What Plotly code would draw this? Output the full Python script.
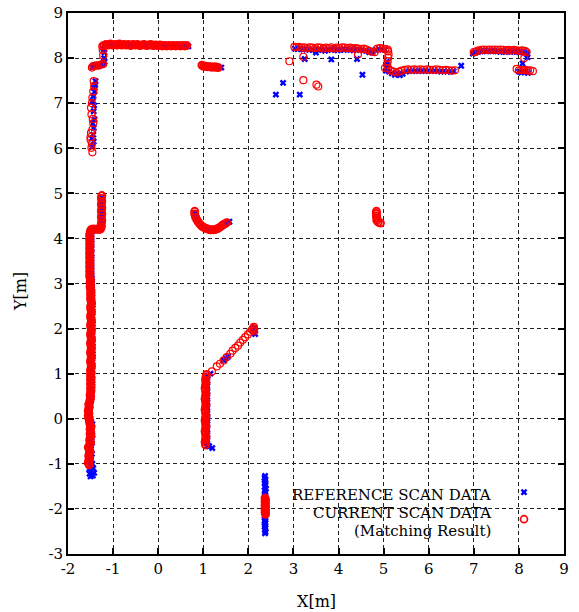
import plotly.graph_objects as go

# ---------------- REFERENCE SCAN DATA (blue x) ----------------
REF_LEFT_WALL = [(-1.50,-1.28),(-1.45,-1.26),(-1.52,-1.22),(-1.42,-1.20),(-1.48,-1.16),(-1.53,-1.12),(-1.44,-1.10),(-1.50,-1.05),(-1.46,-1.00),(-1.52,-0.96),(-1.49,-0.90),(-1.51,-0.84),(-1.47,-0.78),(-1.50,-0.72),(-1.52,-0.66),(-1.49,-0.60),(-1.47,-0.54),(-1.50,-0.48),(-1.48,-0.42),(-1.46,-0.36),(-1.49,-0.30),(-1.47,-0.24),(-1.48,-0.18),(-1.46,-0.12),(-1.49,-0.06),(-1.50,0.00),(-1.51,0.06),(-1.52,0.12),(-1.51,0.18),(-1.52,0.24),(-1.50,0.30),(-1.51,0.36),(-1.49,0.42),(-1.48,0.48),(-1.47,0.54),(-1.48,0.60),(-1.47,0.66),(-1.46,0.72),(-1.47,0.78),(-1.46,0.84),(-1.47,0.90),(-1.46,0.96),(-1.47,1.02),(-1.46,1.08),(-1.47,1.14),(-1.46,1.20),(-1.46,1.26),(-1.47,1.32),(-1.46,1.38),(-1.45,1.44),(-1.46,1.50),(-1.47,1.56),(-1.46,1.62),(-1.45,1.68),(-1.46,1.74),(-1.47,1.80),(-1.46,1.86),(-1.46,1.92),(-1.47,1.98),(-1.46,2.04),(-1.45,2.10),(-1.46,2.16),(-1.47,2.22),(-1.46,2.28),(-1.46,2.34),(-1.47,2.40),(-1.46,2.46),(-1.45,2.52),(-1.46,2.58),(-1.47,2.64),(-1.46,2.70),(-1.47,2.76),(-1.46,2.82),(-1.47,2.88),(-1.48,2.94),(-1.47,3.00),(-1.48,3.06),(-1.47,3.12),(-1.48,3.18),(-1.49,3.24),(-1.48,3.30),(-1.49,3.36),(-1.48,3.42),(-1.49,3.48),(-1.48,3.54),(-1.49,3.60),(-1.48,3.66),(-1.49,3.72),(-1.48,3.78),(-1.49,3.84),(-1.48,3.90),(-1.49,3.96),(-1.48,4.02),(-1.49,4.08),(-1.48,4.14),(-1.47,4.19)]
REF_LEFT_STEP = [(-1.45,4.21),(-1.41,4.20),(-1.37,4.21),(-1.33,4.20),(-1.29,4.21),(-1.25,4.24),(-1.24,4.30),(-1.25,4.36),(-1.24,4.42),(-1.25,4.48),(-1.24,4.54),(-1.25,4.60),(-1.24,4.66),(-1.25,4.72),(-1.24,4.78),(-1.25,4.84),(-1.24,4.90)]
REF_UPPER_LEFT = [(-1.39,7.49),(-1.40,7.40),(-1.43,7.34),(-1.41,7.26),(-1.44,7.15),(-1.46,7.04),(-1.42,6.95),(-1.43,6.82),(-1.41,6.64),(-1.45,6.55),(-1.43,6.45),(-1.44,6.30),(-1.47,6.22),(-1.43,6.15),(-1.46,6.04),
                  (-1.46,7.80),(-1.42,7.82),(-1.38,7.83),(-1.34,7.82),(-1.30,7.84),(-1.26,7.85),(-1.22,7.88),(-1.19,7.92),(-1.20,8.00),(-1.19,8.12),(-1.21,8.20)]
REF_TOP_WALL = [(-1.18,8.27),(-1.13,8.29),(-1.08,8.28),(-1.03,8.30),(-0.98,8.28),(-0.93,8.29),(-0.88,8.27),(-0.83,8.29),(-0.78,8.28),(-0.73,8.30),(-0.68,8.28),(-0.63,8.27),(-0.58,8.29),(-0.53,8.28),(-0.48,8.29),(-0.43,8.27),(-0.38,8.28),(-0.33,8.29),(-0.28,8.27),(-0.23,8.28),(-0.18,8.29),(-0.13,8.27),(-0.08,8.28),(-0.03,8.27),(0.02,8.28),(0.07,8.26),(0.12,8.27),(0.17,8.26),(0.22,8.27),(0.27,8.26),(0.32,8.27),(0.37,8.26),(0.42,8.27),(0.47,8.26),(0.52,8.27),(0.57,8.26),(0.62,8.27),(0.67,8.26)]
REF_MID_SEG = [(1.00,7.82),(1.05,7.81),(1.10,7.80),(1.15,7.81),(1.20,7.80),(1.25,7.79),(1.30,7.80),(1.35,7.79),(1.40,7.79)]
REF_SCATTER = [(2.61,7.19),(2.77,7.45),(3.14,7.19),(3.25,7.98),(3.50,8.12),(3.84,7.97),(4.41,7.98),(4.53,7.63)]
REF_UPPER_RIGHT = [(3.03,8.21),(3.09,8.20),(3.15,8.21),(3.21,8.19),(3.28,8.20),(3.35,8.18),(3.42,8.19),(3.49,8.17),(3.56,8.19),(3.63,8.18),(3.70,8.16),(3.77,8.19),(3.84,8.18),(3.91,8.20),(3.98,8.17),(4.05,8.19),(4.12,8.18),(4.19,8.20),(4.26,8.18),(4.33,8.17),(4.40,8.19),(4.47,8.18),(4.54,8.17),(4.61,8.16),(4.68,8.13),(4.75,8.12),(4.82,8.18),(4.89,8.20),(4.96,8.19),(5.03,8.18),
                   (5.07,7.92),(5.06,7.86),(5.08,7.78)]
REF_LOWER_SEG = [(5.05,7.72),(5.12,7.70),(5.18,7.66),(5.25,7.63),(5.30,7.66),(5.36,7.62),(5.42,7.65),(5.50,7.70),(5.57,7.72),(5.64,7.71),(5.71,7.72),(5.78,7.71),(5.85,7.72),(5.92,7.71),(5.99,7.72),(6.06,7.71),(6.13,7.72),(6.20,7.71),(6.27,7.70),(6.34,7.71),(6.41,7.70),(6.48,7.70),(6.55,7.71),(6.72,7.83)]
REF_RIGHT_WALL = [(6.98,8.10),(7.04,8.12),(7.10,8.14),(7.16,8.15),(7.22,8.16),(7.28,8.15),(7.34,8.16),(7.40,8.15),(7.46,8.16),(7.52,8.15),(7.58,8.14),(7.64,8.15),(7.70,8.14),(7.76,8.15),(7.82,8.14),(7.88,8.15),(7.94,8.14),(8.00,8.13),(8.06,8.14),(8.12,8.13),(8.17,8.10),
                  (8.00,7.70),(8.05,7.68),(8.10,7.72),(8.15,7.70),(8.20,7.67),(8.08,7.88),(8.18,8.08),(8.19,8.02)]
REF_ARC = [(0.82,4.56),(0.85,4.46),(0.89,4.38),(0.94,4.30),(1.00,4.24),(1.06,4.21),(1.12,4.19),(1.18,4.18),(1.24,4.18),(1.30,4.20),(1.36,4.23),(1.42,4.27),(1.48,4.33),(1.54,4.36),(1.58,4.37)]
REF_DIAGONAL = [(1.45,1.30),(1.50,1.34),(1.55,1.38),(2.14,2.02),(2.15,1.96),(2.13,1.92),(2.15,1.88)]
REF_POLE_1 = [(1.09,-0.60),(1.08,-0.54),(1.09,-0.48),(1.08,-0.42),(1.09,-0.36),(1.08,-0.30),(1.09,-0.24),(1.08,-0.18),(1.09,-0.12),(1.08,-0.06),(1.09,0.00),(1.08,0.06),(1.09,0.12),(1.08,0.18),(1.09,0.24),(1.08,0.30),(1.09,0.36),(1.08,0.42),(1.09,0.48),(1.08,0.54),(1.09,0.60),(1.08,0.66),(1.09,0.72),(1.08,0.78),(1.09,0.84),(1.08,0.90),(1.10,0.96),(1.16,1.00),(1.20,-0.65),(1.13,-0.61)]
REF_POLE_2 = [(2.37,-1.27),(2.36,-1.31),(2.38,-1.35),(2.37,-1.39),(2.36,-1.43),(2.38,-1.47),(2.37,-1.51),(2.39,-1.55),(2.36,-1.59),(2.38,-1.63),(2.37,-1.67),(2.36,-1.71),(2.38,-1.75),(2.37,-1.79),(2.39,-1.83),(2.36,-1.87),(2.38,-1.91),(2.37,-1.95),(2.36,-1.99),(2.38,-2.03),(2.37,-2.07),(2.39,-2.11),(2.36,-2.15),(2.38,-2.19),(2.37,-2.23),(2.36,-2.27),(2.38,-2.31),(2.37,-2.35),(2.36,-2.39),(2.38,-2.43),(2.37,-2.47),(2.38,-2.51),(2.37,-2.54)]

# ---------------- CURRENT SCAN DATA (red o) ----------------
CUR_LEFT_WALL = [(-1.53,-1.02),(-1.55,-0.98),(-1.54,-0.93),(-1.52,-0.88),(-1.54,-0.83),(-1.53,-0.78),(-1.51,-0.73),(-1.53,-0.68),(-1.55,-0.63),(-1.52,-0.58),(-1.50,-0.53),(-1.52,-0.48),(-1.51,-0.43),(-1.49,-0.38),(-1.51,-0.33),(-1.50,-0.28),(-1.51,-0.23),(-1.49,-0.18),(-1.51,-0.13),(-1.52,-0.08),(-1.53,-0.03),(-1.54,0.02),(-1.55,0.07),(-1.54,0.12),(-1.55,0.17),(-1.54,0.22),(-1.53,0.27),(-1.54,0.32),(-1.52,0.37),(-1.51,0.42),(-1.50,0.47),(-1.51,0.52),(-1.50,0.57),(-1.49,0.62),(-1.50,0.67),(-1.49,0.72),(-1.50,0.77),(-1.49,0.82),(-1.50,0.87),(-1.49,0.92),(-1.50,0.97),(-1.49,1.02),(-1.50,1.07),(-1.49,1.12),(-1.48,1.17),(-1.49,1.22),(-1.50,1.27),(-1.49,1.32),(-1.48,1.37),(-1.49,1.42),(-1.50,1.47),(-1.49,1.52),(-1.48,1.57),(-1.49,1.62),(-1.50,1.67),(-1.49,1.72),(-1.48,1.77),(-1.49,1.82),(-1.50,1.87),(-1.49,1.92),(-1.48,1.97),(-1.49,2.02),(-1.50,2.07),(-1.49,2.12),(-1.48,2.17),(-1.49,2.22),(-1.50,2.27),(-1.49,2.32),(-1.48,2.37),(-1.49,2.42),(-1.50,2.47),(-1.49,2.52),(-1.48,2.57),(-1.49,2.62),(-1.50,2.67),(-1.49,2.72),(-1.50,2.77),(-1.49,2.82),(-1.50,2.87),(-1.51,2.92),(-1.50,2.97),(-1.51,3.02),(-1.50,3.07),(-1.51,3.12),(-1.52,3.17),(-1.51,3.22),(-1.52,3.27),(-1.51,3.32),(-1.52,3.37),(-1.51,3.42),(-1.52,3.47),(-1.51,3.52),(-1.52,3.57),(-1.51,3.62),(-1.52,3.67),(-1.51,3.72),(-1.52,3.77),(-1.51,3.82),(-1.52,3.87),(-1.51,3.92),(-1.52,3.97),(-1.51,4.02),(-1.52,4.07),(-1.51,4.12),(-1.50,4.17)]
CUR_LEFT_STEP = [(-1.48,4.20),(-1.44,4.21),(-1.40,4.20),(-1.36,4.21),(-1.32,4.20),(-1.28,4.21),(-1.26,4.26),(-1.26,4.33),(-1.25,4.40),(-1.26,4.47),(-1.25,4.54),(-1.26,4.61),(-1.25,4.68),(-1.26,4.75),(-1.25,4.82),(-1.26,4.89),(-1.25,4.95)]
CUR_UPPER_LEFT = [(-1.43,7.49),(-1.42,7.38),(-1.44,7.26),(-1.46,7.12),(-1.47,7.00),(-1.49,6.90),(-1.48,6.75),(-1.45,6.65),(-1.44,6.56),(-1.46,6.41),(-1.49,6.34),(-1.50,6.25),(-1.50,6.19),(-1.47,6.10),(-1.48,6.01),(-1.46,5.91),
                  (-1.47,7.79),(-1.44,7.82),(-1.41,7.83),(-1.37,7.84),(-1.33,7.83),(-1.29,7.85),(-1.25,7.86),(-1.22,7.87),(-1.22,8.06),(-1.23,8.18),(-1.24,8.26)]
CUR_TOP_WALL = [(-1.21,8.28),(-1.16,8.30),(-1.11,8.29),(-1.06,8.31),(-1.01,8.29),(-0.96,8.30),(-0.91,8.29),(-0.86,8.31),(-0.81,8.29),(-0.76,8.30),(-0.71,8.29),(-0.66,8.30),(-0.61,8.28),(-0.56,8.30),(-0.51,8.29),(-0.46,8.30),(-0.41,8.28),(-0.36,8.29),(-0.31,8.30),(-0.26,8.28),(-0.21,8.29),(-0.16,8.30),(-0.11,8.28),(-0.06,8.29),(-0.01,8.28),(0.04,8.29),(0.09,8.27),(0.14,8.28),(0.19,8.27),(0.24,8.28),(0.29,8.27),(0.34,8.28),(0.39,8.27),(0.44,8.28),(0.49,8.27),(0.54,8.28),(0.59,8.27),(0.63,8.28)]
CUR_MID_SEG = [(0.97,7.84),(1.01,7.82),(1.05,7.82),(1.09,7.81),(1.13,7.81),(1.17,7.80),(1.21,7.80),(1.25,7.80),(1.29,7.80),(1.33,7.79)]
CUR_SCATTER = [(2.91,7.93),(3.22,7.51),(3.22,8.03),(3.51,7.41),(3.55,7.37),(4.43,8.08)]
CUR_UPPER_RIGHT = [(3.02,8.25),(3.07,8.24),(3.12,8.25),(3.18,8.23),(3.24,8.24),(3.30,8.22),(3.36,8.24),(3.42,8.23),(3.48,8.22),(3.54,8.24),(3.60,8.23),(3.66,8.21),(3.72,8.23),(3.78,8.22),(3.84,8.24),(3.90,8.21),(3.96,8.23),(4.02,8.22),(4.08,8.24),(4.14,8.23),(4.20,8.22),(4.26,8.23),(4.32,8.21),(4.38,8.22),(4.44,8.21),(4.50,8.20),(4.56,8.21),(4.62,8.19),(4.68,8.16),(4.74,8.14),(4.80,8.13),(4.86,8.21),(4.92,8.22),(4.98,8.21),(5.04,8.20),(5.09,8.19),
                   (5.10,8.15),(5.11,8.08),(5.10,8.01),(5.09,7.93),(5.08,7.85)]
CUR_LOWER_SEG = [(5.03,7.78),(5.10,7.77),(5.16,7.72),(5.22,7.70),(5.28,7.68),(5.34,7.70),(5.40,7.72),(5.47,7.74),(5.54,7.75),(5.61,7.74),(5.68,7.75),(5.75,7.74),(5.82,7.75),(5.89,7.74),(5.96,7.75),(6.03,7.74),(6.10,7.74),(6.17,7.75),(6.24,7.74),(6.31,7.73),(6.38,7.74),(6.45,7.73),(6.52,7.72),(6.58,7.73)]
CUR_RIGHT_WALL = [(7.00,8.13),(7.05,8.15),(7.11,8.17),(7.17,8.18),(7.23,8.19),(7.29,8.18),(7.35,8.19),(7.41,8.18),(7.47,8.19),(7.53,8.18),(7.59,8.19),(7.65,8.18),(7.71,8.17),(7.77,8.18),(7.83,8.17),(7.89,8.18),(7.95,8.17),(8.01,8.16),(8.07,8.17),(8.13,8.16),(8.17,8.13),
                  (7.95,7.76),(8.00,7.73),(8.05,7.74),(8.10,7.73),(8.15,7.74),(8.20,7.72),(8.25,7.73),(8.31,7.71),(8.12,8.00)]
CUR_ARC = [(0.81,4.60),(0.81,4.54),(0.83,4.47),(0.86,4.41),(0.89,4.36),(0.93,4.31),(0.97,4.27),(1.02,4.24),(1.07,4.22),(1.12,4.20),(1.17,4.19),(1.22,4.19),(1.27,4.20),(1.32,4.22),(1.37,4.25),(1.42,4.29),(1.47,4.32),(1.52,4.35)]
CUR_SMALL_SEG = [(4.84,4.60),(4.84,4.55),(4.84,4.50),(4.85,4.45),(4.85,4.40),(4.88,4.36),(4.93,4.34)]
CUR_DIAGONAL = [(1.19,1.05),(1.30,1.16),(1.37,1.22),(1.45,1.29),(1.52,1.37),(1.60,1.44),(1.65,1.51),(1.71,1.57),(1.77,1.62),(1.82,1.69),(1.88,1.75),(1.93,1.81),(1.99,1.87),(2.04,1.93),(2.08,1.97),(2.11,2.01),(2.12,2.04),(2.13,1.98),(2.12,1.94)]
CUR_POLE_1 = [(1.05,-0.58),(1.04,-0.52),(1.05,-0.46),(1.06,-0.40),(1.05,-0.34),(1.04,-0.28),(1.05,-0.22),(1.06,-0.16),(1.05,-0.10),(1.04,-0.04),(1.05,0.02),(1.06,0.08),(1.05,0.14),(1.04,0.20),(1.05,0.26),(1.06,0.32),(1.05,0.38),(1.04,0.44),(1.05,0.50),(1.06,0.56),(1.05,0.62),(1.04,0.68),(1.05,0.74),(1.06,0.80),(1.05,0.86),(1.06,0.92),(1.07,0.98)]
CUR_POLE_2 = [(2.37,-1.76),(2.38,-1.80),(2.37,-1.84),(2.38,-1.88),(2.37,-1.92),(2.38,-1.96),(2.37,-2.00),(2.38,-2.04),(2.37,-2.08),(2.38,-2.12)]

X_TICKS = [-2, -1, 0, 1, 2, 3, 4, 5, 6, 7, 8, 9]
Y_TICKS = [-3, -2, -1, 0, 1, 2, 3, 4, 5, 6, 7, 8, 9]
LEGEND_LINES = ["REFERENCE SCAN DATA", "CURRENT SCAN DATA", "(Matching Result)"]
X_TITLE = "X[m]"
Y_TITLE = "Y[m]"

ref = (REF_LEFT_WALL + REF_LEFT_STEP + REF_UPPER_LEFT + REF_TOP_WALL + REF_MID_SEG + REF_SCATTER
       + REF_UPPER_RIGHT + REF_LOWER_SEG + REF_RIGHT_WALL + REF_ARC + REF_DIAGONAL + REF_POLE_1 + REF_POLE_2)

# red segments: densely sampled walls drawn with a heavier circle outline
cur_segments = [
    (CUR_LEFT_WALL, True), (CUR_LEFT_STEP, True), (CUR_UPPER_LEFT, False), (CUR_TOP_WALL, True),
    (CUR_MID_SEG, True), (CUR_SCATTER, False), (CUR_UPPER_RIGHT, False), (CUR_LOWER_SEG, False),
    (CUR_RIGHT_WALL, False), (CUR_ARC, True), (CUR_SMALL_SEG, True), (CUR_DIAGONAL, False),
    (CUR_POLE_1, True), (CUR_POLE_2, True),
]
cur, cur_lw = [], []
for seg, dense in cur_segments:
    cur += seg
    cur_lw += [2.0 if dense else 1.2] * len(seg)

FONT = "DejaVu Serif"

fig = go.Figure()
fig.add_trace(go.Scatter(
    x=[p[0] for p in ref], y=[p[1] for p in ref], mode="markers", name=" ",
    legendgroup="ref",
    marker=dict(symbol="x", size=6, color="#0000ff", line=dict(width=0)),
))
fig.add_trace(go.Scatter(
    x=[p[0] for p in cur], y=[p[1] for p in cur], mode="markers", name=" ",
    legendgroup="cur",
    marker=dict(symbol="circle-open", size=7, color="#ff0000", line=dict(width=cur_lw)),
))

axis_common = dict(
    showline=True, linecolor="black", linewidth=2, mirror="ticks",
    ticks="inside", ticklen=6, tickwidth=1.5, tickcolor="black",
    showgrid=True, gridcolor="#222222", gridwidth=1, griddash="4px,3px",
    zeroline=False, automargin=False,
    tickfont=dict(family=FONT, size=15, color="black"),
)
fig.update_xaxes(range=[-2, 9], tickvals=X_TICKS, ticktext=[str(v) for v in X_TICKS], **axis_common)
fig.update_yaxes(range=[-3, 9], tickvals=Y_TICKS, ticktext=[str(v) for v in Y_TICKS], **axis_common)

# axis titles as annotations for exact placement
fig.add_annotation(xref="paper", yref="paper", x=0.5, y=-0.088, xanchor="center", yanchor="middle",
                   showarrow=False, text=X_TITLE, font=dict(family=FONT, size=16, color="black"))
fig.add_annotation(xref="paper", yref="paper", x=-0.096, y=0.485, xanchor="center", yanchor="middle",
                   showarrow=False, text=Y_TITLE, textangle=-90, font=dict(family=FONT, size=16, color="black"))

for i, line in enumerate(LEGEND_LINES):
    fig.add_annotation(xref="paper", yref="paper", x=0.856, y=0.109 - i * 0.033,
                       xanchor="right", yanchor="middle", showarrow=False, text=line,
                       font=dict(family=FONT, size=15, color="black"))

fig.update_layout(
    width=579, height=612,
    margin=dict(l=68, r=15, t=13, b=58),
    paper_bgcolor="white", plot_bgcolor="white",
    showlegend=True,
    legend=dict(x=0.879, y=0.141, xanchor="left", yanchor="top", bgcolor="rgba(0,0,0,0)",
                font=dict(family=FONT, size=12), tracegroupgap=8, itemwidth=30),
)
fig.write_html("out.html")
